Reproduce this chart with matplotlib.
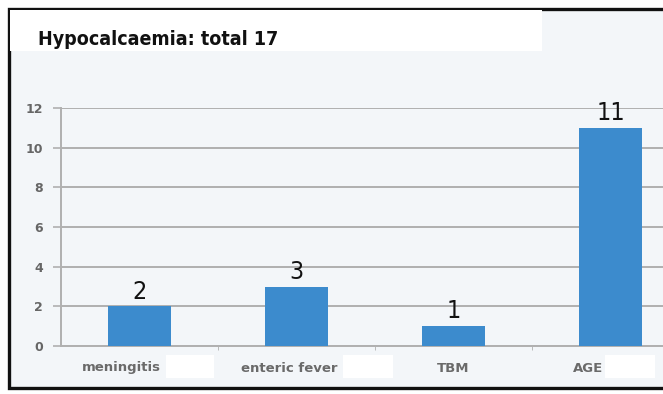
import matplotlib.pyplot as plt
from matplotlib.patches import Rectangle
from matplotlib.ticker import FixedLocator
from matplotlib.transforms import blended_transform_factory

categories = ['meningitis', 'enteric fever', 'TBM', 'AGE']
counts = [2, 3, 1, 11]
yticks = [0, 2, 4, 6, 8, 10, 12]
title = 'Hypocalcaemia: total 17'

# horizontal shift of each category label (data units)
label_shift = [-0.118, -0.048, 0.0, -0.143]

W, H = 663, 394
fig = plt.figure(figsize=(W / 100, H / 100), dpi=100)
fig.patch.set_facecolor('white')


def px_rect(x0, y0, x1, y1, **kw):
    # rectangle given in pixel coords measured from the top-left corner
    return Rectangle((x0 / W, 1 - y1 / H), (x1 - x0) / W, (y1 - y0) / H,
                     transform=fig.transFigure, **kw)


# light panel with black frame
fig.patches.append(px_rect(9, 9, 672, 388, facecolor='#f3f6f9',
                           edgecolor='#111111', linewidth=2.4, zorder=-1))

ax = fig.add_axes([61 / W, 48 / H, 628 / W, 238 / H])
ax.set_zorder(2)
ax.set_facecolor('none')
x = list(range(len(categories)))
bars = ax.bar(x, counts, width=0.4, color='#3c8bcd', zorder=3)
ax.set_xlim(-0.5, len(categories) - 0.5)
ax.set_ylim(0, 12)
ax.set_yticks(yticks)
ax.yaxis.grid(True, color='#b0b0b0', linewidth=1.4, zorder=0)
ax.set_xticks(x)
ax.set_xticklabels([])
ax.xaxis.set_minor_locator(FixedLocator([0.5, 1.5, 2.5]))
ax.tick_params(axis='x', which='major', length=0)
ax.tick_params(axis='x', which='minor', length=3, color='#b0b0b0')
ax.tick_params(axis='y', length=6, width=1.2, color='#b0b0b0', labelsize=9,
               labelcolor='#666666', pad=7)
for lbl in ax.get_yticklabels():
    lbl.set_fontweight('bold')
for side in ('top', 'right'):
    ax.spines[side].set_visible(False)
for side in ('left', 'bottom'):
    ax.spines[side].set_color('#b0b0b0')
    ax.spines[side].set_linewidth(1.4)

# category labels under the axis
trans = blended_transform_factory(ax.transData, ax.transAxes)
for i, (name, dx) in enumerate(zip(categories, label_shift)):
    ax.text(i + dx, -22 / 238, name, transform=trans, ha='center',
            va='center', fontsize=9.5, fontweight='bold', color='#6a6a6a')

# value labels on top of the bars
for b, v in zip(bars, counts):
    ax.annotate(str(v), (b.get_x() + b.get_width() / 2, v),
                xytext=(0, 2), textcoords='offset points', ha='center',
                va='bottom', fontsize=18, color='#111111',
                fontstretch='condensed', zorder=4)

# title strip
fig.patches.append(px_rect(10, 10, 542, 51, facecolor='white',
                           edgecolor='none', zorder=1))
fig.text(38 / W, 1 - 45 / H, title, fontsize=14, fontstretch='condensed',
         fontweight='bold', color='#111111', va='baseline', ha='left',
         zorder=3)

# blanked areas next to the category labels
for x0, x1 in [(166, 214), (343, 393), (605, 655)]:
    fig.patches.append(px_rect(x0, 355, x1, 378, facecolor='white',
                               edgecolor='none', zorder=5))

fig.savefig('out.png', dpi=100)
